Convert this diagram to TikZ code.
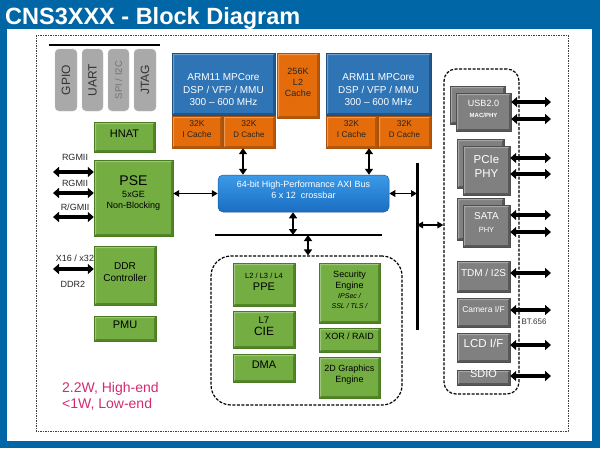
\documentclass[tikz,border=0pt]{standalone}
\usepackage{fontspec}
\setmainfont{Liberation Sans}
\usetikzlibrary{fit,arrows.meta}
\newcommand{\fs}[2]{\fontsize{#1}{#2}\selectfont}
\definecolor{bgblue}{HTML}{0066A6}
\definecolor{gface}{HTML}{74AE42}
\definecolor{gdark}{HTML}{4A7A22}
\definecolor{oface}{HTML}{E46C0A}
\definecolor{odark}{HTML}{A8520C}
\definecolor{bface}{HTML}{2F74B5}
\definecolor{bdark}{HTML}{1D4F80}
\definecolor{yface}{HTML}{808080}
\definecolor{ydark}{HTML}{4F4F4F}
\definecolor{cface}{HTML}{A9A9A9}
\definecolor{bustop}{HTML}{3C9AE8}
\definecolor{busbot}{HTML}{1A6EC2}
\definecolor{busedge}{HTML}{1A5E9E}
\definecolor{pwr}{HTML}{D42A72}
\tikzset{
  bev/.style 2 args={fill=#1, draw=#2, line width=0.4pt, inner sep=0pt, align=center,
    path picture={
      \fill[#2,opacity=0.8] (path picture bounding box.south west) -- (path picture bounding box.south east) -- (path picture bounding box.north east) -- ([shift={(-2pt,-2pt)}]path picture bounding box.north east) -- ([shift={(-2pt,2pt)}]path picture bounding box.south east) -- ([shift={(2pt,2pt)}]path picture bounding box.south west) -- cycle;
      \fill[white,opacity=0.3] (path picture bounding box.north west) -- (path picture bounding box.north east) -- ([shift={(-2pt,-2pt)}]path picture bounding box.north east) -- ([shift={(2pt,-2pt)}]path picture bounding box.north west) -- ([shift={(2pt,2pt)}]path picture bounding box.south west) -- (path picture bounding box.south west) -- cycle;
    }},
  greenbox/.style={bev={gface}{gdark}, text=black, font=\fs{9}{11}},
  orangebox/.style={bev={oface}{odark}, text=black!85},
  armbox/.style={bev={bface}{bdark}},
  graybox/.style={bev={yface}{ydark}, text=white},
  connbox/.style={fill=cface, draw=black!22, dotted, line width=0.8pt, rounded corners=4pt, inner sep=0pt},
  conntext/.style={rotate=90, text=black!80, font=\fs{12}{14}},
  dbox/.style={draw=black, line width=1.2pt, dash pattern=on 3pt off 1.5pt, inner sep=0pt},
  outerbox/.style={draw=black!75, line width=0.8pt, dash pattern=on 1.5pt off 1pt},
  lbl/.style={text=black!85, font=\fs{9}{11}},
  ext/.style={line width=3.2pt, {Triangle[width=10pt,length=6pt]}-{Triangle[width=10pt,length=6pt]}},
  vert/.style={line width=2.5pt, {Triangle[width=8pt,length=6pt]}-{Triangle[width=8pt,length=6pt]}},
  thinarrow/.style={line width=1.5pt, {Triangle[width=6.5pt,length=6pt]}-{Triangle[width=6.5pt,length=6pt]}},
}
\begin{document}
\begin{tikzpicture}[x=1pt,y=-1pt]
\useasboundingbox (0,0) rectangle (600,448);
\fill[bgblue] (0,0) rectangle (600,448);
\fill[white] (7,29) rectangle (592,441);
\node[anchor=base west, text=white, font=\bfseries\fs{23.5}{26}, inner sep=0pt] (title) at (5,24) {CNS3XXX - Block Diagram};
\draw[outerbox] (36,35) rectangle (568,431);

% top-left connectors
\draw[line width=1.3pt] (49,45) -- (160,45);
\node[connbox, fit={(55,49)(77,111)}] (gpio) {};
\node[conntext] at (gpio) {GPIO};
\node[connbox, fit={(82,49)(103,111)}] (uart) {};
\node[conntext] at (uart) {UART};
\node[connbox, fit={(108,49)(129,111)}] (spi) {};
\node[conntext, text=black!55, font=\fs{9.5}{11}] at (spi) {SPI / I2C};
\node[connbox, fit={(134,49)(156,111)}] (jtag) {};
\node[conntext] at (jtag) {JTAG};

% left green column
\node[greenbox, font=\fs{11}{13}, fit={(94,122)(155,152)}] (hnat) {HNAT};
\node[greenbox, fit={(94,160)(173,236)}] (pse) {{\fs{14}{16}PSE}\\[1pt]5xGE\\Non-Blocking};
\node[greenbox, font=\fs{10}{12}, fit={(94,246)(156,305)}] (ddr) {DDR\\Controller};
\node[greenbox, font=\fs{11}{13}, fit={(94,316)(156,341)}] (pmu) {PMU};

% left labels and arrows
\node[lbl] at (75,157) {RGMII};
\node[lbl] at (75,183) {RGMII};
\node[lbl] at (75,207) {R/GMII};
\node[lbl] at (75,258) {X16 / x32};
\node[lbl] at (73,284) {DDR2};
\coordinate (r1) at (53,172);
\coordinate (r2) at (53,193);
\coordinate (r3) at (53,217);
\coordinate (r4) at (53,269);
\draw[ext] (r1) -- (r1 -| pse.west);
\draw[ext] (r2) -- (r2 -| pse.west);
\draw[ext] (r3) -- (r3 -| pse.west);
\draw[ext] (r4) -- (r4 -| ddr.west);

% CPU blocks
\node[armbox, fit={(172,53)(275,115)}] (arml) {};
\node[text=white, font=\fs{10}{12.5}, align=center] at (223.5,90) {ARM11 MPCore\\DSP / VFP / MMU\\300 -- 600 MHz};
\node[orangebox, font=\fs{9}{11}, fit={(277,53)(319,118)}] (l2) {256K\\L2\\Cache};
\node[armbox, fit={(326,53)(431,115)}] (armr) {};
\node[text=white, font=\fs{10}{12.5}, align=center] at (378.5,90) {ARM11 MPCore\\DSP / VFP / MMU\\300 -- 600 MHz};
\node[orangebox, font=\fs{8.5}{10.5}, fit={(172,116)(222,148)}] (icl) {32K\\I Cache};
\node[orangebox, font=\fs{8.5}{10.5}, fit={(223,116)(275,148)}] (dcl) {32K\\{\fs{8}{10}D Cache}};
\node[orangebox, font=\fs{8.5}{10.5}, fit={(326,116)(377,148)}] (icr) {32K\\I Cache};
\node[orangebox, font=\fs{8.5}{10.5}, fit={(378,116)(431,148)}] (dcr) {32K\\{\fs{8}{10}D Cache}};

% bus
\node[top color=bustop, bottom color=busbot, draw=busedge, line width=0.5pt, rounded corners=5pt, inner sep=0pt, align=center, text=white, font=\fs{9}{11}, fit={(218,175)(389,212)}] (bus) {64-bit High-Performance AXI Bus\\6 x 12\ \ crossbar};

% lower dashed group
\node[dbox, rounded corners=20pt, fit={(211,256)(402,405)}] (lbox) {};
\node[greenbox, fit={(233,263)(295,306)}] (ppe) {{\fs{7.5}{9}L2 / L3 / L4}\\[1pt]{\fs{11}{13}PPE}};
\node[greenbox, fit={(233,311)(295,348)}] (cie) {{\fs{9.5}{11}L7}\\[1pt]{\fs{12}{14}CIE}};
\node[greenbox, font=\fs{11}{13}, fit={(233,354)(295,382)}] (dma) {DMA};
\node[greenbox, fit={(319,263)(380,323)}] (sec) {Security\\Engine\\[-1pt]{\fs{7}{8}\itshape IPSec /}\\[-1.5pt]{\fs{7}{8}\itshape SSL / TLS /}};
\node[greenbox, fit={(319,328)(380,352)}] (xor) {XOR / RAID};
\node[greenbox, fit={(319,357)(380,398)}] (gfx) {2D Graphics\\Engine};

% right dashed group
\node[dbox, rounded corners=12pt, fit={(444,69)(519,394)}] (rbox) {};
\node[graybox, fit={(450,86)(505,124)}] (usbb) {};
\node[graybox, fit={(456,93)(511,131)}] (usb) {{\fs{9}{11}USB2.0}\\[-1pt]{\fs{6}{7}\bfseries MAC/PHY}};
\node[graybox, fit={(457,139)(504,188)}] (pcieb) {};
\node[graybox, font=\fs{11.5}{13.5}, fit={(463,146)(510,195)}] (pcie) {PCIe\\PHY};
\node[graybox, fit={(457,198)(504,240)}] (satab) {};
\node[graybox, fit={(463,205)(510,247)}] (sata) {{\fs{10}{12}SATA}\\[1pt]{\fs{7.5}{9}PHY}};
\node[graybox, font=\fs{10}{12}, fit={(457,261)(510,292)}] (tdm) {TDM / I2S};
\node[graybox, font=\fs{8.5}{10}, fit={(457,298)(510,327)}] (cam) {Camera I/F};
\node[graybox, font=\fs{11.5}{13}, fit={(457,333)(510,362)}] (lcd) {LCD I/F};
\node[graybox, font=\fs{11}{12}, fit={(457,370)(510,385)}] (sdio) {SDIO};
\node[text=black!80, font=\fs{8}{9}] (bt) at (534,322) {BT.656};

\coordinate (u1) at (551,102);
\coordinate (u2) at (551,119);
\coordinate (u3) at (551,158);
\coordinate (u4) at (551,174);
\coordinate (u5) at (551,215);
\coordinate (u6) at (551,232);
\coordinate (u7) at (551,273);
\coordinate (u8) at (551,310);
\coordinate (u9) at (551,345);
\coordinate (u10) at (551,376);
\draw[ext] (usb.east |- u1) -- (u1);
\draw[ext] (usb.east |- u2) -- (u2);
\draw[ext] (pcie.east |- u3) -- (u3);
\draw[ext] (pcie.east |- u4) -- (u4);
\draw[ext] (sata.east |- u5) -- (u5);
\draw[ext] (sata.east |- u6) -- (u6);
\draw[ext] (tdm.east |- u7) -- (u7);
\draw[ext] (cam.east |- u8) -- (u8);
\draw[ext] (lcd.east |- u9) -- (u9);
\draw[ext] (sdio.east |- u10) -- (u10);

% internal interconnect
\coordinate (ax1) at (243,0);
\coordinate (ax2) at (369,0);
\coordinate (ax3) at (293,0);
\coordinate (ax4) at (308,0);
\coordinate (hl) at (215,235);
\coordinate (hr) at (382,235);
\coordinate (vt) at (417,163);
\coordinate (vb) at (417,330);
\coordinate (vr) at (417,225);
\draw[line width=3pt] (vt) -- (vb);
\draw[line width=2.5pt] (hl) -- (hr);
\draw[vert] (ax1 |- dcl.south) -- (ax1 |- bus.north);
\draw[vert] (ax2 |- icr.south) -- (ax2 |- bus.north);
\draw[thinarrow] (pse.east |- bus.west) -- (bus.west);
\draw[thinarrow] (bus.east) -- (bus.east -| vt);
\draw[vert] (ax3 |- bus.south) -- (ax3 |- hl);
\draw[vert] (ax4 |- hl) -- (ax4 |- lbox.north);
\draw[thinarrow] (vr) -- (vr -| rbox.west);

% power note
\node[anchor=west, align=left, text=pwr, font=\fs{14}{16}, inner sep=0pt] (power) at (62,396) {2.2W, High-end\\<1W, Low-end};
\end{tikzpicture}
\end{document}
